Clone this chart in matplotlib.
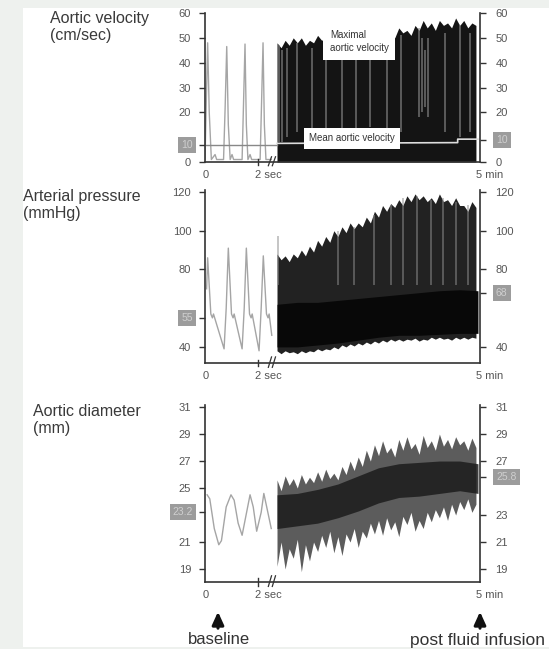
import matplotlib
matplotlib.use('Agg')
import matplotlib.pyplot as plt
from matplotlib.patches import Rectangle, FancyArrowPatch
import numpy as np

plt.rcParams['font.family'] = ['Liberation Sans', 'DejaVu Sans']

# ---------------- data ----------------
# baseline beats (time in seconds)
vel_base_t = [0.00, 0.05, 0.10, 0.16, 0.24, 0.38, 0.44, 0.70, 0.76, 0.82, 0.88, 0.95, 1.02, 1.08,
              1.40, 1.45, 1.51, 1.56, 1.62, 1.70, 1.76, 2.08, 2.13, 2.19, 2.24, 2.30, 2.40, 2.50]
vel_base_v = [1, 25, 48, 20, 1, 3, 1, 1, 22, 46.5, 15, 1, 3, 1,
              1, 22, 47.5, 15, 1, 3, 1, 1, 22, 48, 15, 1, 1, 1]
vel_base_mean = 6.9

pres_base_t = [0.06, 0.10, 0.22, 0.28, 0.32, 0.72, 0.80, 0.88, 1.00, 1.06, 1.10, 1.40, 1.48, 1.56,
               1.68, 1.74, 1.78, 2.04, 2.12, 2.20, 2.32, 2.38, 2.42, 2.52]
pres_base_v = [70, 86, 57, 55, 57, 39, 60, 91, 57, 55, 57, 39, 60, 91,
               57, 55, 57, 38, 60, 87, 57, 55, 57, 46]

diam_base_t = [0.08, 0.18, 0.35, 0.52, 0.62, 0.80, 0.98, 1.10, 1.25, 1.40, 1.58, 1.70, 1.82,
               1.95, 2.12, 2.22, 2.35, 2.50]
diam_base_v = [24.5, 24.2, 22.0, 20.8, 21.1, 23.6, 24.5, 24.1, 22.4, 21.5, 23.3, 24.5, 23.6,
               21.8, 23.2, 24.6, 23.4, 22.0]

# five-minute recordings (time in minutes)
dense_min = np.round(np.arange(0, 5.0, 0.1), 1)
vel_max = [48, 46, 49, 47, 50, 48, 50, 47, 49, 48, 51, 49, 50, 48, 52, 49, 51, 50, 53, 50,
           52, 49, 53, 51, 52, 50, 53, 51, 52, 50, 54, 52, 53, 51, 55, 53, 57, 54, 56, 53,
           57, 55, 56, 54, 58, 55, 57, 54, 56, 55]
vel_mean_min = [0.0, 4.45, 4.45, 4.95]
vel_mean_v = [7.5, 7.8, 9.2, 9.2]
vel_streak_min = [0.05, 0.12, 0.25, 0.5, 0.85, 1.2, 1.6, 1.95, 2.3, 2.7, 3.05, 3.5, 3.58, 3.65, 3.72,
                  4.15, 4.5, 4.75]
vel_streak_top = [47, 45, 46, 48, 46, 49, 47, 50, 49, 50, 51, 54, 50, 45, 50, 52, 55, 52]
vel_streak_bot = [8, 8, 10, 12, 10, 12, 10, 12, 14, 12, 12, 18, 20, 22, 18, 12, 10, 12]

pres_max = [88, 85, 87, 84, 88, 86, 90, 87, 92, 89, 95, 92, 97, 94, 100, 97, 102, 99, 104, 101,
            104, 102, 107, 104, 110, 107, 113, 110, 114, 112, 116, 113, 118, 115, 119, 116, 118, 115, 117, 114,
            119, 115, 116, 113, 117, 113, 113, 110, 115, 112]
pres_min = [38, 36.5, 38, 37, 37.5, 36.5, 38, 37, 38, 37.5, 39, 38, 39, 38.5, 40, 39, 41, 40, 41.5, 40.5,
            42, 41, 42.5, 41.5, 43, 42, 43.5, 42.5, 44, 43, 44, 43, 44, 43.5, 44.5, 43, 44, 43.5, 45, 44,
            45, 44, 44.5, 43.5, 45, 44, 45, 44, 45, 44.5]
core_min = [0, 0.5, 1, 1.5, 2, 2.5, 3, 3.5, 4, 4.5, 4.95]
pres_core_bot = [40, 40, 41, 42, 43.5, 45, 46, 46, 46.5, 47, 47]
pres_core_top = [62, 63, 63, 64, 65, 66, 67, 68, 69, 69.5, 69]
pres_streak_min = [0.02, 1.5, 1.9, 2.4, 2.8, 3.1, 3.45, 3.8, 4.1, 4.4, 4.7]
pres_streak_top = [97, 100, 102, 108, 113, 117, 118, 116, 117, 115, 113]

diam_max = [25.6, 24.8, 25.9, 25.2, 25.7, 25.0, 26.0, 25.3, 25.8, 25.4, 26.2, 25.5, 26.4, 25.7, 26.1,
            25.6, 26.6, 26.0, 27.0, 26.3, 27.3, 26.6, 27.8, 27.0, 28.2, 27.4, 28.5, 27.6, 28.0, 27.3,
            28.6, 27.8, 28.8, 27.9, 28.3, 27.5, 28.9, 28.0, 28.5, 27.8, 29.0, 28.1, 28.6, 27.9, 28.8,
            28.2, 28.5, 27.8, 28.7, 28.0]
diam_min = [19.2, 21.0, 19.0, 20.5, 19.8, 21.2, 18.8, 20.8, 19.6, 21.0, 20.3, 21.5, 20.6, 21.8, 20.2,
            21.4, 20.0, 21.6, 21.0, 22.0, 20.6, 21.8, 21.3, 22.4, 21.6, 22.6, 21.5, 22.8, 21.9, 22.5,
            21.4, 22.9, 22.3, 23.2, 21.8, 22.6, 22.0, 23.2, 22.5, 23.4, 22.8, 23.6, 22.6, 23.8, 23.0,
            24.0, 23.4, 24.2, 23.2, 23.8]
diam_core_top = [24.5, 24.6, 24.9, 25.3, 25.9, 26.5, 26.8, 26.9, 27.0, 27.0, 26.8]
diam_core_bot = [22.0, 22.2, 22.4, 22.8, 23.3, 23.9, 24.3, 24.4, 24.6, 24.8, 24.6]

# axis labels
vel_left_ticks = [0, 20, 30, 40, 50, 60]
vel_right_ticks = [0, 20, 30, 40, 50, 60]
pres_left_ticks = [40, 80, 100, 120]
pres_right_ticks = [40, 80, 100, 120]
diam_left_ticks = [19, 21, 25, 27, 29, 31]
diam_right_ticks = [19, 21, 23, 27, 29, 31]
gray_labels = {  # greyed-out mean values: (left value, right value, left text, right text)
    'vel': (6.9, 8.9, '10', '10'),
    'pres': (55, 68, '55', '68'),
    'diam': (23.2, 25.8, '23.2', '25.8'),
}

# ---------------- layout ----------------
W, H = 549, 649
fig = plt.figure(figsize=(W / 100, H / 100), dpi=100, facecolor='#eef1ee')
fig.patches.append(Rectangle((23 / W, 1 - 647 / H), (W - 23) / W, (647 - 8) / H,
                             transform=fig.transFigure, facecolor='white', edgecolor='none', zorder=-10))

X0, X1 = 205, 480
PX_PER_S = 26.5
XMAX = (X1 - X0) / PX_PER_S
DENSE_START = (277 - X0) / PX_PER_S
U_PER_MIN = (X1 - 277) / PX_PER_S / 5


def to_u(mins):
    return DENSE_START + np.asarray(mins) * U_PER_MIN


def add_ax(y0, y1):
    return fig.add_axes([X0 / W, 1 - y1 / H, (X1 - X0) / W, (y1 - y0) / H])


SPC = '#333333'
TXT = '#555555'


def style(ax, ylim, lticks, rticks, gray):
    ax.set_xlim(0, XMAX)
    ax.set_ylim(*ylim)
    ax.patch.set_alpha(0)
    for s in ['top', 'right']:
        ax.spines[s].set_visible(False)
    for s in ['left', 'bottom']:
        ax.spines[s].set_color(SPC)
        ax.spines[s].set_linewidth(1.2)
    lv, rv, lt, rt = gray
    ax.set_yticks(lticks + [lv])
    ax.set_yticklabels([str(t) for t in lticks] + [''])
    ax.tick_params(axis='y', direction='out', length=4, width=1, colors=SPC,
                   labelsize=8, labelcolor=TXT, pad=6)
    ax.set_xticks([])
    ax2 = ax.twinx()
    ax2.set_ylim(*ylim)
    ax2.patch.set_alpha(0)
    for s in ['top', 'left', 'bottom']:
        ax2.spines[s].set_visible(False)
    ax2.spines['right'].set_color(SPC)
    ax2.spines['right'].set_linewidth(1.2)
    ax2.set_yticks(rticks + [rv])
    ax2.set_yticklabels([str(t) for t in rticks] + [''])
    ax2.tick_params(axis='y', direction='out', length=4, width=1, colors=SPC,
                    labelsize=8, labelcolor=TXT, pad=7)
    box = dict(boxstyle='square,pad=0.3', fc='#9c9c9c', ec='none')
    ax.annotate(lt, xy=(0, lv), xycoords=('axes fraction', 'data'), xytext=(-12, 0),
                textcoords='offset pixels', ha='right', va='center', fontsize=7.5,
                color='#cfcfcf', bbox=box)
    ax.annotate(rt, xy=(1, rv), xycoords=('axes fraction', 'data'), xytext=(16, 0),
                textcoords='offset pixels', ha='left', va='center', fontsize=7.5,
                color='#cfcfcf', bbox=box)
    # x labels
    kw = dict(xycoords=('data', 'axes fraction'), textcoords='offset pixels',
              va='center', fontsize=8, color=TXT)
    ax.annotate('0', xy=(0, 0), xytext=(1, -13), ha='center', **kw)
    ax.annotate('2 sec', xy=(2, 0), xytext=(-3, -13), ha='left', **kw)
    ax.annotate('5 min', xy=(XMAX, 0), xytext=(-4, -13), ha='left', **kw)
    # tick at 2 sec and break mark
    tr = ax.get_xaxis_transform()
    ax.plot([2, 2], [-0.02, 0.02], color=SPC, lw=1, transform=tr, clip_on=False)
    for dx in (0.45, 0.6):
        ax.plot([2 + dx - 0.06, 2 + dx + 0.06], [-0.025, 0.035], color=SPC, lw=0.9,
                transform=tr, clip_on=False)
    return ax


# ---------- panel 1: velocity ----------
ax1 = add_ax(13, 162)
ax1.fill_between(to_u(dense_min), 0, vel_max, color='#141414', lw=0)
ax1.vlines(to_u(vel_streak_min), vel_streak_bot, vel_streak_top, color='#8a8a8a', lw=1.2, alpha=0.7)
ax1.plot(vel_base_t, vel_base_v, color='#a5a5a5', lw=1.0)
ax1.plot([0, DENSE_START], [vel_base_mean, vel_base_mean], color='#888888', lw=1)
ax1.plot(to_u(vel_mean_min), vel_mean_v, color='#dddddd', lw=1.2)
style(ax1, (0, 60), vel_left_ticks, vel_right_ticks, gray_labels['vel'])
ax1.text(to_u(1.3), 53.0, 'Maximal\naortic velocity', fontsize=7, color='#333', va='top', ha='left',
         linespacing=1.3, bbox=dict(boxstyle='square,pad=0.7', fc='white', ec='none'), zorder=5)
ax1.text(to_u(1.85), 9.6, 'Mean aortic velocity', fontsize=7, color='#333', va='center', ha='center',
         bbox=dict(boxstyle='square,pad=0.55', fc='white', ec='none'), zorder=5)

# ---------- panel 2: pressure ----------
ax2 = add_ax(190, 363)
ax2.fill_between(to_u(dense_min), pres_min, pres_max, color='#222222', lw=0)
ax2.vlines(to_u(pres_streak_min), 72, pres_streak_top, color='#8f8f8f', lw=1.2, alpha=0.6)
ax2.fill_between(to_u(core_min), pres_core_bot, pres_core_top, color='#080808', lw=0)
ax2.plot(pres_base_t, pres_base_v, color='#a5a5a5', lw=1.0)
style(ax2, (31.7, 121), pres_left_ticks, pres_right_ticks, gray_labels['pres'])

# ---------- panel 3: diameter ----------
ax3 = add_ax(405, 582)
ax3.fill_between(to_u(dense_min), diam_min, diam_max, color='#5c5c5c', lw=0)
ax3.fill_between(to_u(core_min), diam_core_bot, diam_core_top, color='#1c1c1c', lw=0, alpha=0.85)
ax3.plot(diam_base_t, diam_base_v, color='#a5a5a5', lw=1.0)
style(ax3, (18.04, 31.15), diam_left_ticks, diam_right_ticks, gray_labels['diam'])

# ---------- titles ----------
tkw = dict(fontsize=11.5, color='#3a3a3a', va='top', ha='left', linespacing=1.15)
fig.text(50 / W, 1 - 11 / H, 'Aortic velocity\n(cm/sec)', **tkw)
fig.text(23 / W, 1 - 189 / H, 'Arterial pressure\n(mmHg)', **tkw)
fig.text(33 / W, 1 - 404 / H, 'Aortic diameter\n(mm)', **tkw)

# ---------- arrows & captions ----------
for xp in (218, 480):
    fig.patches.append(FancyArrowPatch((xp / W, 1 - 631 / H), (xp / W, 1 - 609 / H),
                                       transform=fig.transFigure,
                                       arrowstyle='-|>,head_length=0.55,head_width=0.25',
                                       mutation_scale=14, lw=2.2, color='#111111', zorder=5))
fig.text(219 / W, 1 - 640 / H, 'baseline', fontsize=12, color='#333', ha='center', va='center')
fig.text(478 / W, 1 - 640 / H, 'post fluid infusion', fontsize=12.5, color='#333', ha='center', va='center')

fig.savefig('out.png', dpi=100, facecolor=fig.get_facecolor())
